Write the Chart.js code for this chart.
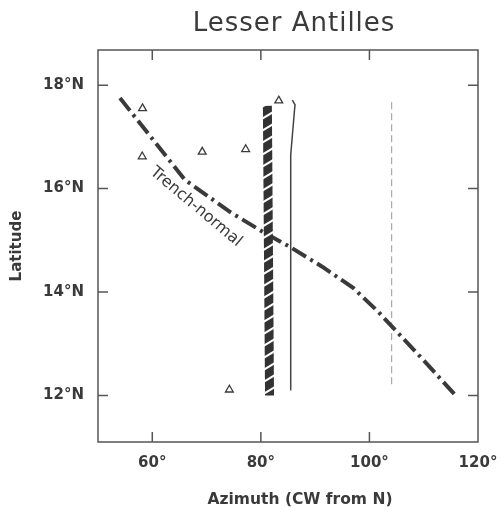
<!DOCTYPE html>
<html>
<head>
<meta charset="utf-8">
<script src="https://cdn.jsdelivr.net/npm/chart.js@4.4.1/dist/chart.umd.min.js"></script>
<style>
  body { margin: 0; background: #fff; }
  canvas { display: block; }
</style>
</head>
<body>
<canvas id="azChart" width="503" height="507"></canvas>
<script>
// Trench-normal azimuth (dash-dot curve)
const trenchAz  = [54.05, 66.0, 74.3, 80.4, 85.4, 91.3, 97.0, 101.6, 105.6, 109.9, 115.8];
const trenchLat = [17.75, 16.17, 15.55, 15.16, 14.87, 14.49, 14.08, 13.62, 13.17, 12.69, 12.01];

// hatched band
const bandAz  = [81.2, 81.6];
const bandLat = [17.6, 12.0];

// thin solid line
const solidAz  = [85.4, 85.5, 86.2, 86.3, 85.8];
const solidLat = [12.11, 16.65, 17.52, 17.62, 17.71];

// thin dashed line
const dashAz  = [104.1, 104.1];
const dashLat = [17.67, 12.15];

// stations (open triangles)
const stationAz  = [58.2, 58.15, 69.2, 77.2, 83.3, 74.2];
const stationLat = [17.55, 16.62, 16.71, 16.76, 17.7, 12.11];

// axes
const xTicks = [60, 80, 100, 120];
const yTicks = [12, 14, 16, 18];

const INK = '#3a3a3a';
const FONT = 'DejaVu Sans';

function toPoints(xs, ys) {
    return xs.map((x, i) => ({ x: x, y: ys[i] }));
}

// diagonal white stripes on dark, used for the thick band
function makeHatch() {
    const c = document.createElement('canvas');
    c.width = 20; c.height = 12;
    const g = c.getContext('2d');
    g.fillStyle = '#333';
    g.fillRect(0, 0, 20, 12);
    g.strokeStyle = '#fff';
    g.lineWidth = 2;
    [-12, 0, 12].forEach(off => {
        g.beginPath();
        g.moveTo(0, 12 + off);
        g.lineTo(20, off);
        g.stroke();
    });
    return g.createPattern(c, 'repeat');
}

// frame with inward ticks, title, x title and the curve label
const framePlugin = {
    id: 'frame',
    afterDatasetsDraw(chart) {
        const { ctx, chartArea: a, scales: { x, y } } = chart;
        const midX = (a.left + a.right) / 2;
        ctx.save();
        ctx.strokeStyle = '#555';
        ctx.lineWidth = 1.5;
        ctx.strokeRect(a.left, a.top, a.right - a.left, a.bottom - a.top);
        ctx.beginPath();
        xTicks.forEach(v => {
            const px = x.getPixelForValue(v);
            if (px >= a.right - 1) return;
            ctx.moveTo(px, a.bottom); ctx.lineTo(px, a.bottom - 10);
            ctx.moveTo(px, a.top); ctx.lineTo(px, a.top + 10);
        });
        yTicks.forEach(v => {
            const py = y.getPixelForValue(v);
            ctx.moveTo(a.left, py); ctx.lineTo(a.left + 10, py);
            ctx.moveTo(a.right, py); ctx.lineTo(a.right - 10, py);
        });
        ctx.stroke();

        ctx.fillStyle = INK;
        ctx.textAlign = 'center';
        ctx.textBaseline = 'alphabetic';

        // chart title
        ctx.save();
        ctx.letterSpacing = '1px';
        ctx.font = '26px "' + FONT + '"';
        ctx.fillText('Lesser Antilles', midX + 6, 31);
        ctx.restore();

        // x axis title
        ctx.font = 'bold 15.5px "' + FONT + '"';
        ctx.fillText('Azimuth (CW from N)', midX + 12, 504);

        // "Trench-normal" label along the curve
        ctx.translate(x.getPixelForValue(68.05), y.getPixelForValue(15.645));
        ctx.rotate(40 * Math.PI / 180);
        ctx.font = '16px "' + FONT + '"';
        ctx.textBaseline = 'middle';
        ctx.fillText('Trench-normal', 0, 0);
        ctx.restore();
    }
};

new Chart(document.getElementById('azChart'), {
    type: 'scatter',
    data: {
        datasets: [
            {
                label: 'Stations',
                data: toPoints(stationAz, stationLat),
                pointStyle: 'triangle',
                pointRadius: 4.5,
                borderWidth: 1.3,
                borderColor: INK,
                backgroundColor: '#fff',
                order: 0
            },
            {
                label: 'Band',
                data: toPoints(bandAz, bandLat),
                showLine: true,
                borderWidth: 9,
                borderColor: makeHatch(),
                borderCapStyle: 'butt',
                pointRadius: 0,
                order: 1
            },
            {
                label: 'Trench-normal',
                data: toPoints(trenchAz, trenchLat),
                showLine: true,
                borderWidth: 4,
                borderDash: [16, 5, 3, 5],
                borderColor: INK,
                borderCapStyle: 'butt',
                pointRadius: 0,
                order: 2
            },
            {
                label: 'Solid',
                data: toPoints(solidAz, solidLat),
                showLine: true,
                borderWidth: 1.5,
                borderColor: '#444',
                pointRadius: 0,
                order: 3
            },
            {
                label: 'Dashed',
                data: toPoints(dashAz, dashLat),
                showLine: true,
                borderWidth: 1,
                borderDash: [7, 4],
                borderColor: '#999',
                pointRadius: 0,
                order: 4
            }
        ]
    },
    options: {
        responsive: false,
        animation: false,
        devicePixelRatio: 1,
        layout: { padding: { top: 50, right: 25, bottom: 0, left: 0 } },
        plugins: {
            legend: { display: false },
            tooltip: { enabled: false },
            title: { display: false }
        },
        scales: {
            x: {
                type: 'linear',
                min: 50,
                max: 120,
                afterBuildTicks: s => { s.ticks = xTicks.map(v => ({ value: v })); },
                afterFit: s => { s.height = 65; s.paddingLeft = 0; s.paddingRight = 0; },
                grid: { display: false, drawTicks: false },
                border: { display: false },
                ticks: {
                    color: INK,
                    padding: 12,
                    maxRotation: 0,
                    font: { family: FONT, size: 15, weight: 'bold' },
                    callback: v => v + '°'
                }
            },
            y: {
                type: 'linear',
                min: 11.1,
                max: 18.68,
                afterBuildTicks: s => { s.ticks = yTicks.map(v => ({ value: v })); },
                afterFit: s => { s.width = 98; s.paddingTop = 0; s.paddingBottom = 0; },
                grid: { display: false, drawTicks: false },
                border: { display: false },
                ticks: {
                    color: INK,
                    padding: 14,
                    font: { family: FONT, size: 15, weight: 'bold' },
                    callback: v => v + '°N'
                },
                title: {
                    display: true,
                    text: 'Latitude',
                    color: INK,
                    font: { family: FONT, size: 15, weight: 'bold' },
                    padding: { top: 8.5, bottom: 0 }
                }
            }
        }
    },
    plugins: [framePlugin]
});
</script>
</body>
</html>
